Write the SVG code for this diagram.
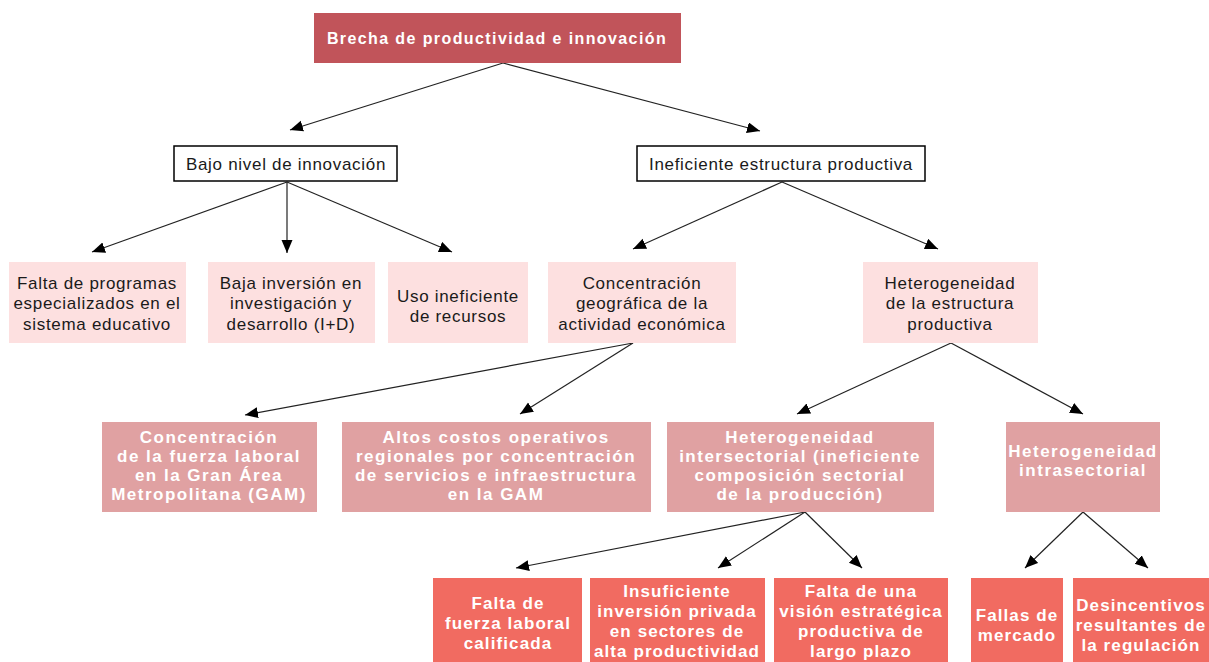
<svg xmlns="http://www.w3.org/2000/svg" width="1209" height="662" viewBox="0 0 1209 662">
<defs>
<style>
.t{font-family:"Liberation Sans",Arial,sans-serif;text-anchor:middle}
.r{font-size:17px;fill:#1a1a1a;letter-spacing:0.7px}
.b{font-size:17px;font-weight:bold;fill:#ffffff;letter-spacing:1.5px}
.b5{letter-spacing:1.1px}
.bt{font-size:16px;letter-spacing:1.4px}
.top{fill:#c1545a}
.wb{fill:#ffffff;stroke:#000;stroke-width:1.5}
.p3{fill:#fde0e0}
.p4{fill:#e0a1a2}
.p5{fill:#f16b61}
.c line{stroke:#222;stroke-width:1.2;marker-end:url(#ah)}
</style>
<marker id="ah" markerUnits="userSpaceOnUse" markerWidth="14" markerHeight="12" refX="13" refY="5.5" orient="auto" viewBox="0 0 14 12">
<path d="M0,0 L13,5.5 L0,11 z" fill="#000"/>
</marker>
</defs>
<rect width="1209" height="662" fill="#fff"/>
<g class="c" id="connectors">
<line x1="503" y1="63" x2="290" y2="130"/>
<line x1="503" y1="63" x2="760" y2="131"/>
<line x1="287" y1="182" x2="92" y2="252"/>
<line x1="287" y1="182" x2="287" y2="253"/>
<line x1="287" y1="182" x2="452" y2="252"/>
<line x1="782" y1="182" x2="633" y2="249"/>
<line x1="782" y1="182" x2="938" y2="249"/>
<line x1="633" y1="343" x2="245" y2="415"/>
<line x1="633" y1="343" x2="520" y2="414"/>
<line x1="951" y1="343" x2="797" y2="414"/>
<line x1="951" y1="343" x2="1083" y2="414"/>
<line x1="805" y1="512" x2="516" y2="568"/>
<line x1="805" y1="512" x2="718" y2="568"/>
<line x1="805" y1="512" x2="862" y2="568"/>
<line x1="1083" y1="512" x2="1025" y2="568"/>
<line x1="1083" y1="512" x2="1148" y2="568"/>
</g>
<g id="n-root"><rect class="top" x="314" y="13" width="367" height="50"/>
<text class="t b bt" x="497" y="44">Brecha de productividad e innovación</text></g>
<g id="n-bajo"><rect class="wb" x="174" y="146" width="223" height="35"/>
<text class="t r" x="286" y="170">Bajo nivel de innovación</text></g>
<g id="n-inef"><rect class="wb" x="637" y="146" width="288" height="35"/>
<text class="t r" x="781" y="170">Ineficiente estructura productiva</text></g>
<g id="n-falta-prog"><rect class="p3" x="9" y="262" width="177" height="81"/>
<text class="t r" x="97"><tspan x="97" y="289">Falta de programas</tspan><tspan x="97" y="309">especializados en el</tspan><tspan x="97" y="330">sistema educativo</tspan></text></g>
<g id="n-baja-inv"><rect class="p3" x="208" y="262" width="167" height="81"/>
<text class="t r" x="291"><tspan x="291" y="289">Baja inversión en</tspan><tspan x="291" y="309">investigación y</tspan><tspan x="291" y="330">desarrollo (I+D)</tspan></text></g>
<g id="n-uso"><rect class="p3" x="388" y="262" width="140" height="81"/>
<text class="t r" x="458"><tspan x="458" y="302">Uso ineficiente</tspan><tspan x="458" y="322">de recursos</tspan></text></g>
<g id="n-conc-geo"><rect class="p3" x="548" y="262" width="188" height="81"/>
<text class="t r" x="642"><tspan x="642" y="289">Concentración</tspan><tspan x="642" y="309">geográfica de la</tspan><tspan x="642" y="330">actividad económica</tspan></text></g>
<g id="n-het-est"><rect class="p3" x="863" y="262" width="175" height="81"/>
<text class="t r" x="950"><tspan x="950" y="289">Heterogeneidad</tspan><tspan x="950" y="309">de la estructura</tspan><tspan x="950" y="330">productiva</tspan></text></g>
<g id="n-conc-fuerza"><rect class="p4" x="102" y="422" width="215" height="90"/>
<text class="t b" x="209"><tspan x="209" y="443">Concentración</tspan><tspan x="209" y="462">de la fuerza laboral</tspan><tspan x="209" y="481">en la Gran Área</tspan><tspan x="209" y="500">Metropolitana (GAM)</tspan></text></g>
<g id="n-altos"><rect class="p4" x="342" y="422" width="309" height="90"/>
<text class="t b" x="496"><tspan x="496" y="443">Altos costos operativos</tspan><tspan x="496" y="462">regionales por concentración</tspan><tspan x="496" y="481">de servicios e infraestructura</tspan><tspan x="496" y="500">en la GAM</tspan></text></g>
<g id="n-het-inter"><rect class="p4" x="667" y="422" width="267" height="90"/>
<text class="t b" x="800"><tspan x="800" y="443">Heterogeneidad</tspan><tspan x="800" y="462">intersectorial (ineficiente</tspan><tspan x="800" y="481">composición sectorial</tspan><tspan x="800" y="500">de la producción)</tspan></text></g>
<g id="n-het-intra"><rect class="p4" x="1006" y="422" width="154" height="90"/>
<text class="t b" x="1083"><tspan x="1083" y="457">Heterogeneidad</tspan><tspan x="1083" y="476">intrasectorial</tspan></text></g>
<g id="n-falta-fuerza"><rect class="p5" x="433" y="578" width="149" height="84"/>
<text class="t b b5" x="508"><tspan x="508" y="609">Falta de</tspan><tspan x="508" y="629">fuerza laboral</tspan><tspan x="508" y="649">calificada</tspan></text></g>
<g id="n-insuf"><rect class="p5" x="590" y="578" width="175" height="84"/>
<text class="t b b5" x="677"><tspan x="677" y="597">Insuficiente</tspan><tspan x="677" y="617">inversión privada</tspan><tspan x="677" y="637">en sectores de</tspan><tspan x="677" y="657">alta productividad</tspan></text></g>
<g id="n-vision"><rect class="p5" x="774" y="578" width="174" height="84"/>
<text class="t b b5" x="861"><tspan x="861" y="597">Falta de una</tspan><tspan x="861" y="617">visión estratégica</tspan><tspan x="861" y="637">productiva de</tspan><tspan x="861" y="657">largo plazo</tspan></text></g>
<g id="n-fallas"><rect class="p5" x="971" y="578" width="92" height="84"/>
<text class="t b b5" x="1017"><tspan x="1017" y="621">Fallas de</tspan><tspan x="1017" y="641">mercado</tspan></text></g>
<g id="n-desinc"><rect class="p5" x="1073" y="578" width="136" height="84"/>
<text class="t b b5" x="1141"><tspan x="1141" y="611">Desincentivos</tspan><tspan x="1141" y="631">resultantes de</tspan><tspan x="1141" y="651">la regulación</tspan></text></g>
</svg>
